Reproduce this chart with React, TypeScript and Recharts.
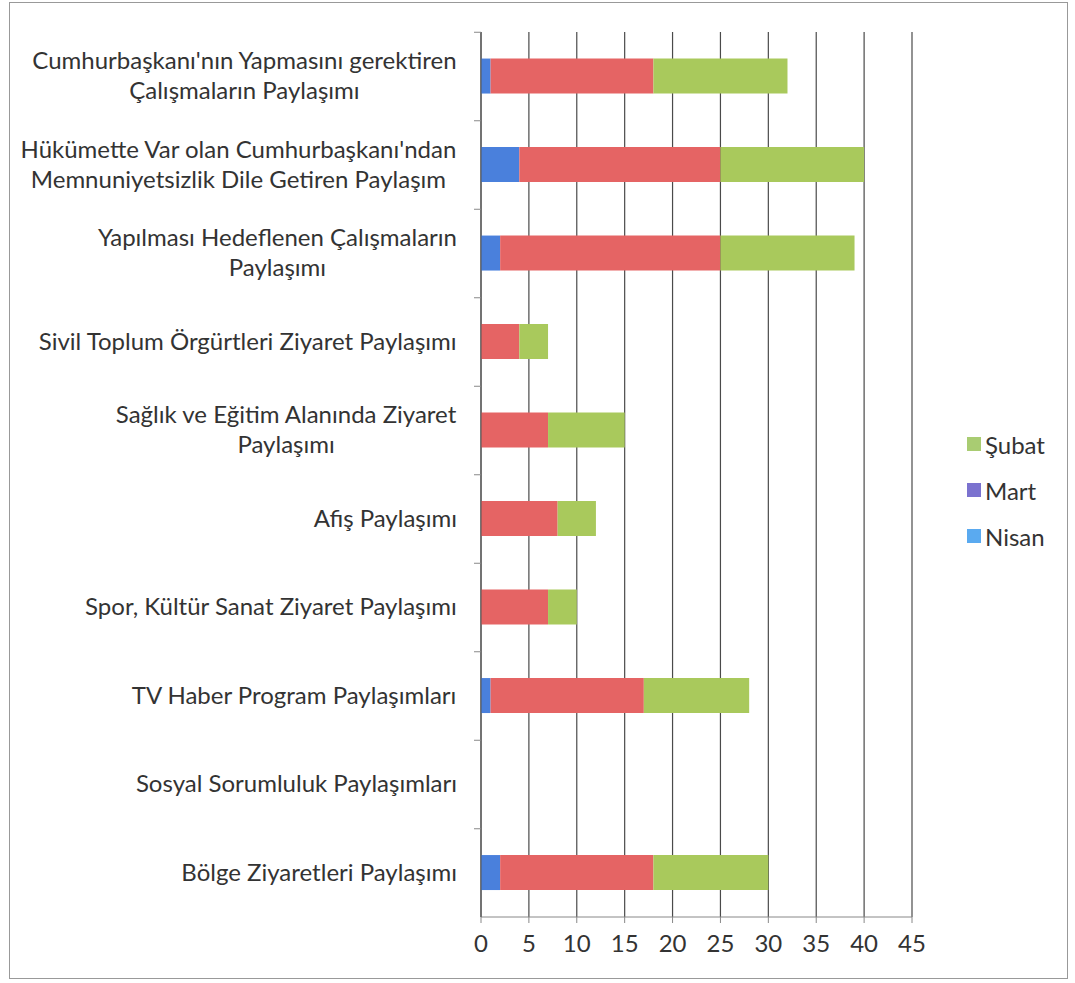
import React from "react";
import {
  BarChart,
  Bar,
  XAxis,
  YAxis,
  CartesianGrid,
  Legend,
} from "recharts";

// category labels ("\n" marks the line break used in the original)
const categories = [
  "Cumhurbaşkanı'nın Yapmasını gerektiren\nÇalışmaların Paylaşımı",
  "Hükümette Var olan Cumhurbaşkanı'ndan\nMemnuniyetsizlik Dile Getiren Paylaşım",
  "Yapılması Hedeflenen Çalışmaların\nPaylaşımı",
  "Sivil Toplum Örgürtleri Ziyaret Paylaşımı",
  "Sağlık ve Eğitim Alanında Ziyaret\nPaylaşımı",
  "Afiş Paylaşımı",
  "Spor, Kültür Sanat Ziyaret Paylaşımı",
  "TV Haber Program Paylaşımları",
  "Sosyal Sorumluluk Paylaşımları",
  "Bölge Ziyaretleri Paylaşımı",
];

// stacked segments, left to right
const nisan = [1, 4, 2, 0, 0, 0, 0, 1, 0, 2];
const mart = [17, 21, 23, 4, 7, 8, 7, 16, 0, 16];
const subat = [14, 15, 14, 3, 8, 4, 3, 11, 0, 12];

const xTicks = [0, 5, 10, 15, 20, 25, 30, 35, 40, 45];

const legendItems = [
  { name: "Şubat", color: "#a9cc72" },
  { name: "Mart", color: "#7b72cf" },
  { name: "Nisan", color: "#5aaaf0" },
];

const data = categories.map((name, i) => ({
  name,
  nisan: nisan[i],
  mart: mart[i],
  subat: subat[i],
}));

const FONT = "Lato, 'Open Sans', sans-serif";
const LABEL_SIZE = 24;

// measure text so wrapped labels can be centred on their widest line
const measureCtx =
  typeof document !== "undefined"
    ? document.createElement("canvas").getContext("2d")
    : null;
function textWidth(s: string) {
  if (!measureCtx) return s.length * LABEL_SIZE * 0.48;
  measureCtx.font = `${LABEL_SIZE}px ${FONT}`;
  return measureCtx.measureText(s).width;
}

function CategoryTick(props: any) {
  const { x, y, payload } = props;
  const lines: string[] = String(payload.value).split("\n");
  const lineH = 30;
  const start = -((lines.length - 1) * lineH) / 2;
  const right = x - 15;
  const maxW = Math.max(...lines.map(textWidth));
  const cx = right - maxW / 2;
  return (
    <text
      x={cx}
      y={y}
      textAnchor="middle"
      fontFamily={FONT}
      fontSize={LABEL_SIZE}
      fill="#333"
    >
      {lines.map((l, i) => (
        <tspan key={i} x={cx} dy={i === 0 ? start + 8 : lineH}>
          {l}
        </tspan>
      ))}
    </text>
  );
}

function LegendBox() {
  return (
    <div style={{ fontFamily: FONT, fontSize: 24, color: "#333" }}>
      {legendItems.map((it) => (
        <div
          key={it.name}
          style={{ display: "flex", alignItems: "center", height: 46 }}
        >
          <span
            style={{
              display: "inline-block",
              width: 14,
              height: 14,
              background: it.color,
              marginRight: 4,
            }}
          />
          {it.name}
        </div>
      ))}
    </div>
  );
}

export default function App() {
  return (
    <div
      style={{
        position: "absolute",
        left: 0,
        top: 0,
        width: 1075,
        height: 983,
        background: "#fff",
      }}
    >
      <div
        style={{
          position: "absolute",
          left: 9,
          top: 2,
          width: 1059,
          height: 977,
          border: "1px solid #999",
          boxSizing: "border-box",
        }}
      />
      <BarChart
        width={1075}
        height={983}
        data={data}
        layout="vertical"
        barCategoryGap="30%"
        margin={{ top: 32, right: 63, bottom: 20, left: 0 }}
      >
        <CartesianGrid
          horizontal={false}
          stroke="#4a4a4a"
          strokeWidth={1.2}
        />
        <XAxis
          type="number"
          domain={[0, 45]}
          ticks={xTicks}
          height={46}
          axisLine={{ stroke: "#888" }}
          tickLine={{ stroke: "#888" }}
          tickSize={6}
          tick={{ fontFamily: FONT, fontSize: 24, fill: "#333" }}
          tickMargin={12}
        />
        <YAxis
          type="category"
          dataKey="name"
          width={481}
          axisLine={{ stroke: "#555" }}
          tickLine={{ stroke: "#888", transform: "translate(0, -44)" }}
          tickSize={7}
          tick={<CategoryTick />}
          interval={0}
        />
        <Legend
          layout="vertical"
          align="right"
          verticalAlign="middle"
          content={<LegendBox />}
          wrapperStyle={{ position: "absolute", left: 967, top: 421, width: 100 }}
        />
        <Bar dataKey="nisan" stackId="a" fill="#4a80dc" isAnimationActive={false} />
        <Bar dataKey="mart" stackId="a" fill="#e56464" isAnimationActive={false} />
        <Bar dataKey="subat" stackId="a" fill="#a9c95c" isAnimationActive={false} />
      </BarChart>
    </div>
  );
}
